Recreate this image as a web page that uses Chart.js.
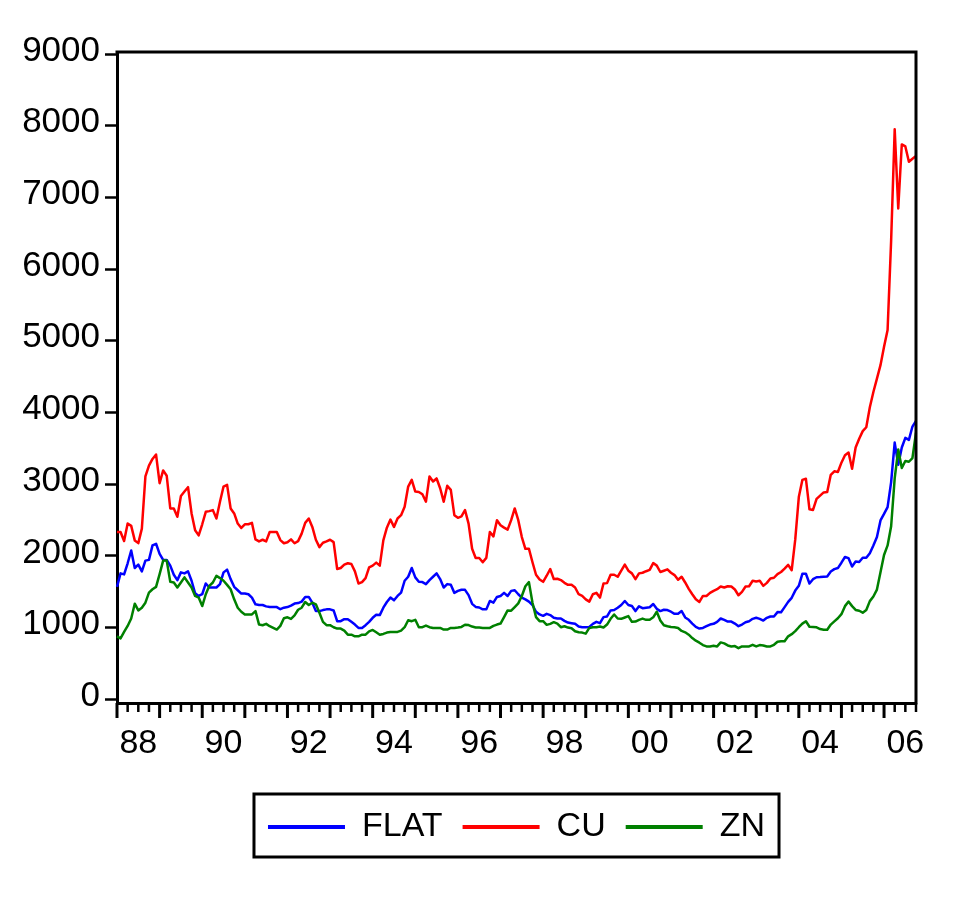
<!DOCTYPE html>
<html>
<head>
<meta charset="utf-8">
<script src="https://cdn.jsdelivr.net/npm/chart.js@4.4.1/dist/chart.umd.min.js"></script>
<style>
html,body{margin:0;padding:0;background:#fff;}
canvas{display:block;}
</style>
</head>
<body>
<canvas id="c" width="971" height="909"></canvas>
<script>
// ---------- DATA ----------
const startYear = 1988;
const nObs = 226; // 1988M01 .. 2006M10
const months = [];
for (let k = 0; k < nObs; k++) {
  const y = startYear + Math.floor(k / 12);
  const m = (k % 12) + 1;
  months.push(y + 'M' + (m < 10 ? '0' + m : m));
}
const xTickLabels = ['88','90','92','94','96','98','00','02','04','06'];
const yTickValues = [0,1000,2000,3000,4000,5000,6000,7000,8000,9000];

const flat = [
1568,1756,1742,1897,2075,1831,1878,1784,1934,1944,2146,2169,
2028,1944,1944,1864,1737,1662,1770,1756,1784,1653,1479,1441,
1465,1615,1559,1559,1559,1606,1770,1808,1676,1568,1521,1474,
1474,1465,1418,1324,1315,1315,1296,1286,1286,1286,1256,1277,
1286,1307,1335,1342,1362,1427,1427,1347,1230,1230,1244,1254,
1254,1239,1089,1089,1117,1117,1080,1042,995,995,1033,1080,
1136,1178,1174,1277,1357,1418,1380,1441,1488,1653,1709,1831,
1700,1638,1634,1606,1662,1709,1756,1676,1559,1606,1596,1484,
1512,1528,1526,1453,1331,1288,1280,1254,1254,1371,1347,1427,
1441,1484,1441,1512,1521,1465,1418,1394,1362,1315,1221,1183,
1164,1192,1174,1136,1127,1127,1094,1070,1061,1052,1014,1005,
1005,1009,1052,1080,1061,1146,1155,1239,1244,1277,1315,1371,
1315,1300,1230,1296,1270,1277,1284,1328,1261,1230,1249,1244,
1221,1192,1192,1230,1141,1108,1056,1009,986,995,1019,1042,
1052,1080,1127,1108,1084,1084,1056,1019,1042,1075,1089,1122,
1136,1122,1098,1136,1155,1155,1216,1215,1285,1358,1415,1516,
1582,1750,1750,1615,1675,1702,1704,1708,1713,1782,1815,1830,
1905,1984,1968,1851,1921,1915,1974,1974,2038,2146,2263,2494,
2585,2681,3029,3580,3270,3511,3646,3618,3804,3884
];

const cu = [
2333,2333,2207,2451,2418,2216,2178,2380,3108,3258,3352,3413,
3014,3192,3117,2662,2662,2545,2836,2897,2958,2592,2357,2286,
2441,2615,2624,2638,2521,2756,2967,2991,2662,2592,2451,2390,
2441,2441,2460,2230,2202,2225,2202,2333,2333,2333,2220,2176,
2190,2230,2176,2206,2310,2460,2521,2404,2225,2122,2183,2202,
2225,2192,1817,1831,1878,1897,1887,1784,1615,1634,1690,1840,
1864,1906,1864,2216,2394,2507,2404,2521,2568,2685,2967,3061,
2897,2892,2859,2756,3108,3038,3080,2944,2756,2977,2920,2568,
2531,2550,2640,2450,2100,1970,1970,1911,1972,2333,2272,2498,
2427,2394,2366,2498,2662,2498,2263,2099,2099,1911,1737,1671,
1638,1723,1817,1676,1681,1662,1624,1596,1596,1559,1465,1441,
1394,1362,1465,1484,1418,1615,1620,1737,1737,1709,1793,1878,
1793,1756,1676,1756,1765,1786,1805,1900,1864,1775,1793,1812,
1765,1732,1667,1709,1629,1540,1465,1394,1357,1441,1441,1484,
1512,1535,1573,1559,1577,1573,1531,1451,1498,1573,1577,1653,
1643,1653,1582,1624,1685,1695,1746,1775,1822,1875,1800,2230,
2820,3060,3075,2650,2640,2795,2840,2885,2890,3130,3180,3170,
3300,3403,3441,3216,3511,3634,3740,3794,4072,4286,4473,4660,
4917,5150,6400,7950,6845,7739,7711,7498,7540,7577
];

const zn = [
878,850,939,1023,1127,1333,1239,1277,1347,1488,1535,1568,
1746,1934,1934,1638,1629,1559,1629,1700,1629,1559,1441,1418,
1300,1465,1582,1629,1723,1690,1653,1596,1535,1394,1277,1221,
1183,1183,1183,1230,1042,1033,1052,1019,995,972,1024,1130,
1143,1120,1169,1249,1277,1357,1315,1347,1324,1207,1080,1033,
1033,1005,986,986,958,901,901,878,878,901,901,948,
967,934,901,911,930,939,939,939,958,1005,1103,1089,
1108,1005,1005,1028,1005,995,995,995,972,972,995,995,
1000,1009,1040,1035,1014,1002,1000,995,995,995,1023,1042,
1056,1146,1239,1235,1286,1338,1441,1577,1634,1347,1146,1089,
1089,1038,1052,1075,1056,1005,1019,1000,991,948,934,930,
915,995,1005,1005,1014,1000,1042,1122,1183,1127,1122,1141,
1160,1080,1084,1108,1125,1108,1110,1143,1221,1100,1033,1019,
1009,1005,995,953,934,901,854,817,789,756,737,737,
746,737,793,779,751,737,742,713,737,737,737,760,
737,756,751,737,737,760,803,808,808,878,908,950,
1005,1055,1088,1012,1008,1003,980,970,970,1042,1086,1130,
1187,1299,1363,1299,1246,1235,1208,1246,1369,1433,1530,1770,
2012,2146,2413,3082,3483,3227,3323,3313,3365,3720
];

// ---------- CHART ----------
const FONT = "'Liberation Sans', Arial, Helvetica, sans-serif";
const FS = 34;
Chart.defaults.font.family = FONT;
Chart.defaults.color = '#000';

const framePlugin = {
  id: 'frame',
  afterDraw(chart) {
    const ctx = chart.ctx, a = chart.chartArea, xs = chart.scales.x;
    ctx.save();
    ctx.strokeStyle = '#000';
    ctx.lineCap = 'butt';
    // x-axis tick marks: quarterly short, yearly long
    for (let k = 0; k < months.length; k++) {
      const m = k % 12;
      if (m % 3 !== 0) continue;
      const x = xs.getPixelForValue(k);
      const len = m === 0 ? 15 : 9;
      ctx.lineWidth = m === 0 ? 3 : 2.5;
      ctx.beginPath();
      ctx.moveTo(x, a.bottom);
      ctx.lineTo(x, a.bottom + len);
      ctx.stroke();
    }
    // top & right frame
    ctx.lineWidth = 3;
    ctx.beginPath();
    ctx.moveTo(a.left - 1.5, a.top);
    ctx.lineTo(a.right, a.top);
    ctx.lineTo(a.right, a.bottom + 1.5);
    ctx.stroke();
    // legend border
    const lg = chart.legend;
    if (lg && lg.legendHitBoxes && lg.legendHitBoxes.length) {
      let l = Infinity, r = -Infinity, cy = 0;
      lg.legendHitBoxes.forEach(h => {
        l = Math.min(l, h.left);
        r = Math.max(r, h.left + h.width);
        cy = h.top + h.height / 2;
      });
      ctx.lineWidth = 3;
      ctx.strokeRect(l - 14, cy - 33, (r - l) + 28, 63);
    }
    ctx.restore();
  }
};

new Chart(document.getElementById('c'), {
  type: 'line',
  data: {
    labels: months,
    datasets: [
      { label: 'FLAT', data: flat, borderColor: '#0000FF', backgroundColor: '#0000FF', order: 2 },
      { label: 'CU',   data: cu,   borderColor: '#FF0000', backgroundColor: '#FF0000', order: 1 },
      { label: 'ZN',   data: zn,   borderColor: '#008000', backgroundColor: '#008000', order: 0 }
    ]
  },
  options: {
    responsive: false,
    animation: false,
    devicePixelRatio: 1,
    elements: {
      point: { radius: 0, hoverRadius: 0 },
      line: { borderWidth: 2.5, tension: 0, fill: false, borderJoinStyle: 'round' }
    },
    layout: { padding: { left: 0, top: 52, right: 55, bottom: 55 } },
    plugins: {
      tooltip: { enabled: false },
      title: { display: false },
      legend: {
        display: true,
        position: 'bottom',
        fullSize: false,
        labels: {
          boxWidth: 77,
          boxHeight: 4,
          padding: 20,
          color: '#000',
          font: { size: FS, family: FONT },
          sort: (a, b) => a.datasetIndex - b.datasetIndex,
          generateLabels(chart) {
            const items = Chart.defaults.plugins.legend.labels.generateLabels(chart);
            items.forEach(it => { it.lineWidth = 0; });
            return items;
          }
        }
      }
    },
    scales: {
      x: {
        type: 'category',
        offset: false,
        grid: { display: true, drawOnChartArea: false, drawTicks: true, tickLength: 10, color: 'rgba(0,0,0,0)' },
        border: { display: true, color: '#000', width: 3 },
        ticks: {
          autoSkip: false, maxRotation: 0, minRotation: 0, padding: 10,
          color: '#000', font: { size: FS, family: FONT },
          callback: function (val, idx) {
            if (idx % 12 !== 6) return '';
            const lab = String(startYear + Math.floor(idx / 12)).slice(2);
            return xTickLabels.includes(lab) ? lab : '';
          }
        },
        afterFit(scale) { scale.height = 87; }
      },
      y: {
        min: -52,
        max: 9028,
        afterBuildTicks(scale) { scale.ticks = yTickValues.map(v => ({ value: v })); },
        grid: { display: true, drawOnChartArea: false, drawTicks: true, tickLength: 12, tickWidth: 2.5, tickColor: '#000' },
        border: { display: true, color: '#000', width: 3 },
        ticks: {
          padding: 5, labelOffset: -3, color: '#000',
          font: { size: 35, family: FONT },
          callback: v => String(v)
        },
        afterFit(scale) { scale.width = 117; }
      }
    }
  },
  plugins: [framePlugin]
});
</script>
</body>
</html>
